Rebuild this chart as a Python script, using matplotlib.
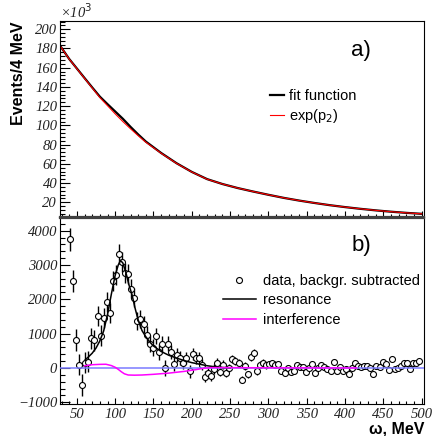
import numpy as np
import matplotlib
matplotlib.use("Agg")
import matplotlib.pyplot as plt
from matplotlib.ticker import MultipleLocator
from matplotlib.lines import Line2D

# ---- panel a): background and full fit (units of 10^3 events / 4 MeV)
bg_x = [28, 40, 60, 70, 80, 90, 100, 110, 120, 130, 140, 160, 180, 200, 220,
        240, 260, 280, 300, 320, 340, 360, 380, 400, 420, 440, 460, 480, 500]
bg_y = [183, 169, 149, 139, 129, 120.5, 112, 104, 96.5, 89.3, 82.5, 71, 60.5, 51.5, 44,
        39.0, 34.8, 31.2, 27.8, 24.6, 21.8, 19.3, 17.0, 15.0, 13.2, 11.6, 10.2, 9.0, 8.0]
fit_y = [183, 169.1, 149.3, 139.5, 129.9, 122.1, 114.5, 106.9, 98.5, 90.6, 83.2, 71.3, 60.7, 51.6, 44.1,
         39.0, 34.8, 31.2, 27.8, 24.6, 21.8, 19.3, 17.0, 15.0, 13.2, 11.6, 10.2, 9.0, 8.0]

# ---- panel b): background subtracted data
data_x = list(range(41, 498, 4))
data_y = [3750, 2540, 810, 100, -490, 150, 180, 870, 810, 1510, 940, 1460, 1930, 1600, 2540,
          2720, 3320, 3080, 2760, 2740, 2310, 2050, 1370, 1420, 1270, 960, 710, 590, 930, 470,
          700, 0, 710, 470, 130, 370, 290, 150, 290, -100, 420, 290, 290, 100, -250,
          -150, -230, -40, 150, -110, 100, -150, 0, 270, 200, 150, -340, 50, -190, 320,
          450, -100, 100, 150, 80, 120, 140, 100, 110, -80, -150, 0, -120, -90, 90,
          20, 20, -130, 0, 120, -150, 0, 100, 30, -30, -100, 170, -100, 20, -80,
          -30, -170, 0, 150, 70, 20, 50, 70, 0, -180, 50, 20, 180, 120, -50,
          270, -30, 0, 70, 150, 150, -30, 150, 150, 190]
data_err = [330, 320, 320, 315, 315, 310, 310, 305, 305, 300, 300, 300, 295, 295, 290,
            290, 290, 285, 285, 280, 275, 270, 265, 260, 255, 250, 245, 240, 235, 230,
            225, 220, 215, 210, 205, 200, 195, 190, 185, 180, 175, 170, 165, 160, 155,
            150, 146, 142, 138, 134, 130, 127, 124, 121, 118, 115, 112, 110, 108, 106,
            104, 102, 100, 98, 96, 94, 92, 90, 88, 86, 84, 82, 80, 78, 76,
            75, 74, 73, 72, 71, 70, 69, 68, 67, 66, 65, 64, 63, 62, 61,
            60, 59, 58, 57, 56, 55, 54, 53, 52, 51, 50, 49, 48, 47, 46,
            46, 45, 45, 44, 44, 43, 43, 42, 42, 41]

res_x = [61, 65, 70, 75, 80, 85, 90, 95, 100, 104, 107, 110, 114, 118, 122, 126, 130,
         135, 140, 145, 150, 160, 170, 180, 190, 200, 210, 220, 230, 240, 250]
res_y = [240, 320, 430, 580, 790, 1080, 1560, 2150, 2700, 3000, 3130, 3060, 2780, 2420, 2130,
         1740, 1400, 1090, 910, 760, 640, 480, 370, 290, 215, 155, 110, 65, 35, 15, 5]

int_x = [60, 65, 70, 80, 88, 95, 100, 104, 108, 112, 117, 125, 135, 150, 170, 190,
         205, 215, 225, 240, 300, 350, 415]
int_y = [60, 80, 95, 105, 108, 70, 20, -40, -110, -170, -205, -210, -205, -185, -150, -100,
         -50, -10, 10, 10, 5, 3, 0]

zero_x = [28, 503]
zero_y = [0, 0]

serif = "Liberation Serif"
sans = "Liberation Sans"
tick_size = 10.5

fig = plt.figure(figsize=(4.33, 4.36), dpi=100)
ax1 = fig.add_axes([60/433, 1-217/436, 364/433, 196/436])
ax2 = fig.add_axes([60/433, 1-404/436, 364/433, 186/436])

# panel a)
ax1.plot(bg_x, fit_y, color="black", lw=1.6, label="fit function")
ax1.plot(bg_x, bg_y, color="red", lw=0.8, label=r"exp(p$_2$)")
ax1.set_xlim(28, 503)
ax1.set_ylim(4.7, 208.6)
ax1.yaxis.set_minor_locator(MultipleLocator(4))
ax1.set_yticks(range(20, 201, 20))

# panel b)
ax2.plot(zero_x, zero_y, color="#7b7bff", lw=1.1, zorder=4)
ax2.errorbar(data_x, data_y, yerr=data_err, fmt="o", ms=4.3, mfc="white", mec="black",
             mew=0.8, ecolor="black", elinewidth=1.0, capsize=0, zorder=3)
ax2.plot(res_x, res_y, color="black", lw=1.1, zorder=5)
ax2.plot(int_x, int_y, color="#ff00ff", lw=1.1, zorder=5)
ax2.set_xlim(28, 503)
ax2.set_ylim(-1050, 4370)
ax2.yaxis.set_major_locator(MultipleLocator(1000))
ax2.yaxis.set_minor_locator(MultipleLocator(200))

for ax in (ax1, ax2):
    ax.set_xticks(range(50, 501, 50))
    ax.xaxis.set_minor_locator(MultipleLocator(10))
    ax.tick_params(axis="y", which="major", direction="in", length=7, width=0.8, pad=2)
    ax.tick_params(axis="y", which="minor", direction="in", length=3.5, width=0.8)
    ax.tick_params(axis="x", which="major", direction="in", length=4.3, width=0.8, pad=3)
    ax.tick_params(axis="x", which="minor", direction="in", length=2.2, width=0.8)
    for sp in ax.spines.values():
        sp.set_linewidth(0.8)
ax1.set_xticklabels([])

for lab in ax1.get_yticklabels() + ax2.get_yticklabels() + ax2.get_xticklabels():
    lab.set_fontfamily(serif)
    lab.set_fontstyle("italic")
    lab.set_fontsize(tick_size)
    lab.set_color("#222222")

ax1.spines["bottom"].set_linewidth(1.6)
ax1.spines["bottom"].set_color("#404040")
ax2.spines["top"].set_linewidth(1.6)
ax2.spines["top"].set_color("#404040")

# axis labels
ax1.set_ylabel("Events/4 MeV", fontsize=11.5, fontweight="bold", family=sans, loc="top")
ax1.yaxis.set_label_coords(-0.094, 1.0)
ax2.set_xlabel("ω, MeV", fontsize=11.5, fontweight="bold", family=sans, loc="right")
ax2.xaxis.set_label_coords(1.0, -0.095)
ax1.text(0.0, 1.0, r"×10$^{3}$", transform=ax1.transAxes, fontsize=tick_size,
         family=serif, style="italic", ha="left", va="bottom", color="#222222")

ax1.text(0.80, 0.82, "a)", transform=ax1.transAxes, fontsize=16, family=sans)
ax2.text(0.80, 0.82, "b)", transform=ax2.transAxes, fontsize=16, family=sans)

ax1.legend(loc="upper left", bbox_to_anchor=(0.578, 0.655), frameon=False,
           prop=dict(family=sans, size=10.5), handlelength=0.9, handletextpad=0.4,
           borderpad=0, borderaxespad=0, labelspacing=0.3)
h_data = Line2D([], [], ls="none", marker="o", ms=4.3, mfc="white", mec="black", mew=0.8)
h_res = Line2D([], [], color="black", lw=1.1)
h_int = Line2D([], [], color="#ff00ff", lw=1.1)
ax2.legend([h_data, h_res, h_int], ["data, backgr. subtracted", "resonance", "interference"],
           loc="upper left", bbox_to_anchor=(0.449, 0.70), frameon=False,
           prop=dict(family=sans, size=10.5), handlelength=2.2, handletextpad=0.5,
           borderpad=0, borderaxespad=0, labelspacing=0.38)

fig.savefig("out.png", dpi=100)
